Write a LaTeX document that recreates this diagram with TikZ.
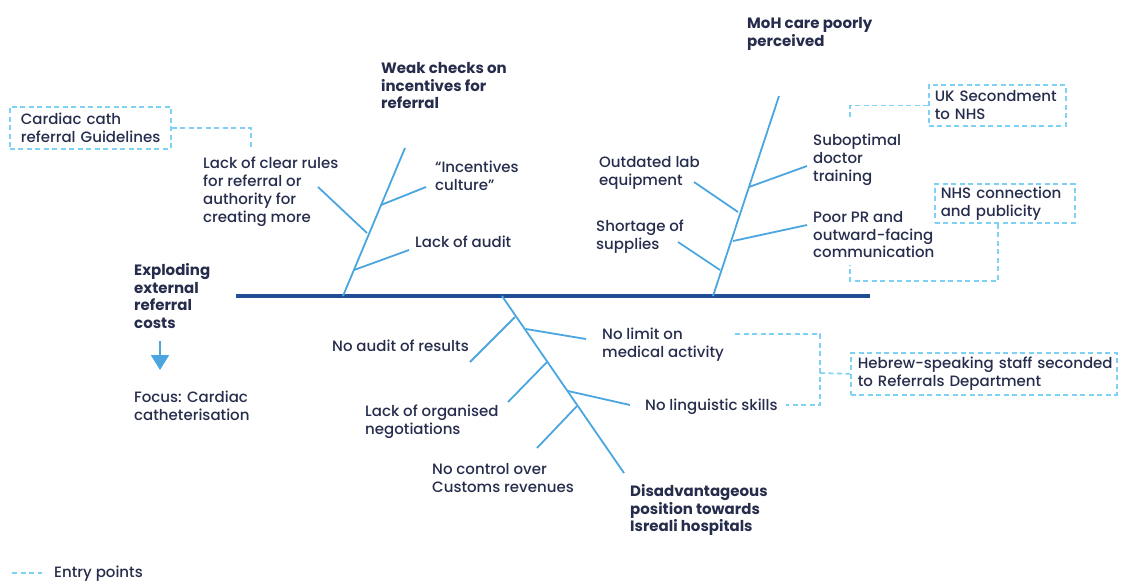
\documentclass[tikz,border=0pt]{standalone}
\usepackage{fontspec}
\IfFontExistsTF{Poppins Medium}
  {\setmainfont{Poppins Medium}[BoldFont=Poppins Bold]}
  {\setmainfont{Poppins}}
\usetikzlibrary{arrows.meta}
\definecolor{ink}{HTML}{262D4C}
\definecolor{spine}{HTML}{1F4E96}
\definecolor{bone}{HTML}{4BA6E0}
\definecolor{entry}{HTML}{7FD0F5}
\newcommand{\lblfont}{\fontsize{15}{17.8}\selectfont}
\tikzset{
  lbl/.style={anchor=north west, inner sep=0pt, align=left, text=ink, font=\lblfont},
  head/.style={lbl, font=\lblfont\bfseries},
  spineline/.style={draw=spine, line width=3.5pt},
  boneline/.style={draw=bone, line width=1.8pt},
  entryline/.style={draw=entry, line width=1.6pt, dash pattern=on 5pt off 3.5pt},
  entrybox/.style={entryline, anchor=north west, align=left, text=ink, font=\lblfont, inner ysep=0pt}
}
\begin{document}
\begin{tikzpicture}[x=1pt,y=-1pt]
\useasboundingbox (0,0) rectangle (1121,582);

% main spine
\coordinate (S0) at (236,296);
\coordinate (S1) at (870,296);
\draw[spineline] (S0) -- (S1);

% upper left bone
\coordinate (A0) at (343,296); \coordinate (A1) at (405,148);
\coordinate (Aa0) at (381,205); \coordinate (Aa1) at (426,187);
\coordinate (Ab0) at (354,270); \coordinate (Ab1) at (409,250);
\coordinate (Ac0) at (367,233); \coordinate (Ac1) at (318,187);
\draw[boneline] (A0) -- (A1);
\draw[boneline] (Aa0) -- (Aa1);
\draw[boneline] (Ab0) -- (Ab1);
\draw[boneline] (Ac0) -- (Ac1);

% upper right bone
\coordinate (B0) at (713,296); \coordinate (B1) at (779,96);
\coordinate (Ba0) at (749,187); \coordinate (Ba1) at (807,166);
\coordinate (Bb0) at (733,241); \coordinate (Bb1) at (807,225);
\coordinate (Bc0) at (738,212); \coordinate (Bc1) at (694,182);
\coordinate (Bd0) at (720,270); \coordinate (Bd1) at (678,242);
\draw[boneline] (B0) -- (B1);
\draw[boneline] (Ba0) -- (Ba1);
\draw[boneline] (Bb0) -- (Bb1);
\draw[boneline] (Bc0) -- (Bc1);
\draw[boneline] (Bd0) -- (Bd1);

% lower bone
\coordinate (C0) at (502,296); \coordinate (C1) at (624,473);
\coordinate (Ca0) at (515,317); \coordinate (Ca1) at (470,362);
\coordinate (Cb0) at (526,329); \coordinate (Cb1) at (586,339);
\coordinate (Cc0) at (547,362); \coordinate (Cc1) at (508,402);
\coordinate (Cd0) at (568,391); \coordinate (Cd1) at (630,405);
\coordinate (Ce0) at (577,406); \coordinate (Ce1) at (537,448);
\draw[boneline] (C0) -- (C1);
\draw[boneline] (Ca0) -- (Ca1);
\draw[boneline] (Cb0) -- (Cb1);
\draw[boneline] (Cc0) -- (Cc1);
\draw[boneline] (Cd0) -- (Cd1);
\draw[boneline] (Ce0) -- (Ce1);

% labels
\node[head] (explode) at (134,263) {Exploding\\external\\referral\\costs};
\node[lbl] (focus) at (134,391) {Focus: Cardiac\\catheterisation};
\coordinate (arrTop) at (160,341);
\coordinate (arrTip) at (160,370);
\draw[boneline, -{Triangle[width=18pt,length=15pt]}] (arrTop) -- (arrTip);

\node[lbl] (rules) at (203,157) {Lack of clear rules\\for referral or\\authority for\\creating more};
\node[head] (weak) at (381,62) {Weak checks on\\incentives for\\referral};
\node[lbl] (incent) at (435,161) {“Incentives\\culture”};
\node[lbl] (audit) at (415,236) {Lack of audit};

\node[head] (moh) at (747,17) {MoH care poorly\\perceived};
\node[lbl] (lab) at (599,156) {Outdated lab\\equipment};
\node[lbl] (short) at (596,220) {Shortage of\\supplies};
\node[lbl] (subopt) at (813,134) {Suboptimal\\doctor\\training};
\node[lbl] (poorpr) at (813,211) {Poor PR and\\outward-facing\\communication};

\node[lbl] (noaudit) at (332,340) {No audit of results};
\node[lbl] (nolimit) at (602,328) {No limit on\\medical activity};
\node[lbl] (lackorg) at (365,405) {Lack of organised\\negotiations};
\node[lbl] (nolang) at (645,399) {No linguistic skills};
\node[lbl] (nocontrol) at (432,463) {No control over\\Customs revenues};
\node[head] (disadv) at (630,484) {Disadvantageous\\position towards\\Isreali hospitals};

% entry points
\node[entrybox, inner xsep=11pt, text width=139pt, minimum height=42pt] (cath) at (9,106)
  {\mbox{Cardiac cath}\\\mbox{referral Guidelines}};
\node[entrybox, inner xsep=6pt, text width=125pt, minimum height=41pt] (uk) at (928,84)
  {\mbox{UK Secondment}\\\mbox{to NHS}};
\node[entrybox, inner xsep=6pt, text width=128pt, minimum height=39pt] (nhs) at (934,183)
  {\mbox{NHS connection}\\\mbox{and publicity}};
\node[entrybox, inner xsep=7pt, text width=252pt, minimum height=42pt] (heb) at (850,352)
  {\mbox{Hebrew-speaking staff seconded}\\\mbox{to Referrals Department}};

\coordinate (rulesTop) at (251,150);
\draw[entryline] (cath.east) -| (rulesTop);
\coordinate (subTop) at (850,118);
\draw[entryline] (uk.west) -| (subTop);
\coordinate (nhsDrop) at (998,281);
\coordinate (prFoot) at (850,265);
\draw[entryline] (nhs.south -| nhsDrop) -- (nhsDrop) -| (prFoot);
\coordinate (limEnd) at (735,334);
\coordinate (hebJoin) at (820,373);
\coordinate (langEnd) at (786,405);
\draw[entryline] (limEnd) -| (hebJoin) |- (langEnd);
\draw[entryline] (hebJoin) -- (heb.west);

% legend
\coordinate (legA) at (12,573);
\coordinate (legB) at (42,573);
\draw[entryline] (legA) -- (legB);
\node[lbl] (legtext) at (54,566) {Entry points};
\end{tikzpicture}
\end{document}
